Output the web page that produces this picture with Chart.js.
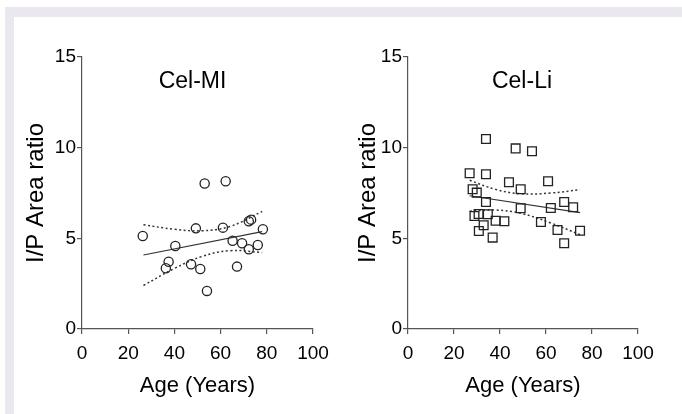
<!DOCTYPE html>
<html>
<head>
<meta charset="utf-8">
<script src="https://cdn.jsdelivr.net/npm/chart.js@4.4.0/dist/chart.umd.min.js"></script>
<style>
  body { margin: 0; background: #fff; width: 682px; height: 414px; overflow: hidden; position: relative; }
  .band-top { position: absolute; left: 5px; top: 7px; width: 677px; height: 10px; background: #ebe7ef; }
  .band-left { position: absolute; left: 5px; top: 7px; width: 9px; height: 407px; background: #ebe7ef; }
  .panel { position: absolute; top: 0; width: 341px; height: 414px; }
</style>
</head>
<body>
<div class="band-top"></div>
<div class="band-left"></div>
<div class="panel" style="left:0"><canvas id="mi"></canvas></div>
<div class="panel" style="left:341px"><canvas id="li"></canvas></div>
<script>
// Cel-MI points
const miAge = [26.3, 40.4, 37.5, 36.3, 47.2, 51.2, 49.3, 53.1, 54.1, 62.2, 61.0, 65.2, 67.1, 69.3, 72.2, 72.2, 73.2, 76.1, 78.3]
const miRatio = [5.13, 4.58, 3.71, 3.35, 3.57, 3.31, 5.55, 8.02, 2.1, 8.15, 5.59, 4.87, 3.44, 4.73, 4.4, 5.94, 6.03, 4.63, 5.5]
// Cel-MI fit line and 95% band
const miFitAge = [26.6, 78]
const miFit = [4.08, 5.37]
const miBandAge = [26.6, 40, 52, 64, 78]
const miUpper = [5.75, 5.5, 5.42, 5.65, 6.48]
const miLower = [2.4, 3.34, 4.0, 4.32, 4.22]

// Cel-Li points
const liAge = [33.9, 46.8, 53.9, 26.8, 33.9, 43.9, 60.9, 49.0, 28.1, 29.9, 33.9, 67.9, 71.8, 62.1, 49.0, 28.9, 30.7, 34.7, 38.1, 41.9, 57.8, 32.9, 30.8, 36.8, 65.0, 74.8, 67.9]
const liRatio = [10.48, 9.96, 9.80, 8.59, 8.53, 8.09, 8.15, 7.71, 7.71, 7.52, 7.0, 7.0, 6.71, 6.67, 6.66, 6.23, 6.34, 6.33, 5.97, 5.94, 5.90, 5.72, 5.40, 5.04, 5.46, 5.42, 4.73]
const liFitAge = [26.8, 74.8]
const liFit = [7.35, 6.42]
const liBandAge = [26.8, 38, 49, 62, 74.8]
const liUpper = [8.2, 7.7, 7.46, 7.5, 7.68]
const liLower = [6.5, 6.56, 6.38, 5.85, 5.2]

const xTicks = [0, 20, 40, 60, 80, 100]
const yTicks = [0, 5, 10, 15]

const FONT = '"Liberation Sans", Arial, sans-serif'

const pairs = (xs, ys) => xs.map((x, i) => ({ x: x, y: ys[i] }))

// draws the panel name inside the plot area
const panelTitle = {
    id: 'panelTitle',
    afterDraw(chart, args, opts) {
        const { ctx, chartArea } = chart
        ctx.save()
        ctx.font = '23px ' + FONT
        ctx.fillStyle = '#000'
        ctx.textAlign = 'center'
        ctx.textBaseline = 'middle'
        ctx.fillText(opts.text, (chartArea.left + chartArea.right) / 2 + opts.shift, chartArea.top + 25)
        ctx.restore()
    }
}

function makePanel(id, cfg) {
    new Chart(document.getElementById(id), {
        type: 'scatter',
        data: {
            datasets: [
                {
                    data: pairs(cfg.age, cfg.ratio),
                    pointStyle: cfg.pointStyle,
                    pointRadius: cfg.radius,
                    pointHoverRadius: cfg.radius,
                    pointBorderWidth: 1.3,
                    borderColor: '#222',
                    backgroundColor: 'rgba(0,0,0,0)'
                },
                {
                    type: 'line',
                    data: pairs(cfg.fitAge, cfg.fit),
                    borderColor: '#333',
                    borderWidth: 1.2,
                    pointRadius: 0
                },
                {
                    type: 'line',
                    data: pairs(cfg.bandAge, cfg.upper),
                    borderColor: '#333',
                    borderWidth: 1.5,
                    borderDash: [2, 2.5],
                    tension: 0.4,
                    pointRadius: 0
                },
                {
                    type: 'line',
                    data: pairs(cfg.bandAge, cfg.lower),
                    borderColor: '#333',
                    borderWidth: 1.5,
                    borderDash: [2, 2.5],
                    tension: 0.4,
                    pointRadius: 0
                }
            ]
        },
        options: {
            responsive: true,
            maintainAspectRatio: false,
            animation: false,
            layout: { padding: { top: 57, right: cfg.padRight, bottom: 0, left: 0 } },
            plugins: {
                legend: { display: false },
                tooltip: { enabled: false },
                panelTitle: { text: cfg.title, shift: cfg.shift }
            },
            scales: {
                x: {
                    type: 'linear',
                    min: 0,
                    max: 100,
                    afterBuildTicks: (scale) => { scale.ticks = xTicks.map(v => ({ value: v })) },
                    afterFit: (scale) => { scale.height = 85 },
                    border: { color: '#555', width: 1.2 },
                    grid: { drawOnChartArea: false, drawTicks: true, tickLength: 5, color: '#555', lineWidth: 1.2 },
                    ticks: { color: '#000', font: { family: FONT, size: 19 }, padding: 8, maxRotation: 0 },
                    title: { display: true, text: 'Age (Years)', color: '#000', font: { family: FONT, size: 22 }, padding: { top: 0, bottom: 15 } }
                },
                y: {
                    type: 'linear',
                    min: 0,
                    max: 15,
                    afterBuildTicks: (scale) => { scale.ticks = yTicks.map(v => ({ value: v })) },
                    afterFit: (scale) => { scale.width = cfg.yWidth },
                    border: { color: '#555', width: 1.2 },
                    grid: { drawOnChartArea: false, drawTicks: true, tickLength: 5, color: '#555', lineWidth: 1.2 },
                    ticks: { color: '#000', font: { family: FONT, size: 19 }, padding: 1 },
                    title: { display: true, text: 'I/P Area ratio', color: '#000', font: { family: FONT, size: 24 }, padding: { top: cfg.yTitlePad, bottom: 0 } }
                }
            }
        },
        plugins: [panelTitle]
    })
}

makePanel('mi', {
    age: miAge, ratio: miRatio,
    fitAge: miFitAge, fit: miFit,
    bandAge: miBandAge, upper: miUpper, lower: miLower,
    pointStyle: 'circle', radius: 4.6,
    title: 'Cel-MI', shift: -5,
    yWidth: 82, padRight: 28, yTitlePad: 22
})

makePanel('li', {
    age: liAge, ratio: liRatio,
    fitAge: liFitAge, fit: liFit,
    bandAge: liBandAge, upper: liUpper, lower: liLower,
    pointStyle: 'rect', radius: 6.2,
    title: 'Cel-Li', shift: -1,
    yWidth: 67, padRight: 44, yTitlePad: 13
})
</script>
</body>
</html>
